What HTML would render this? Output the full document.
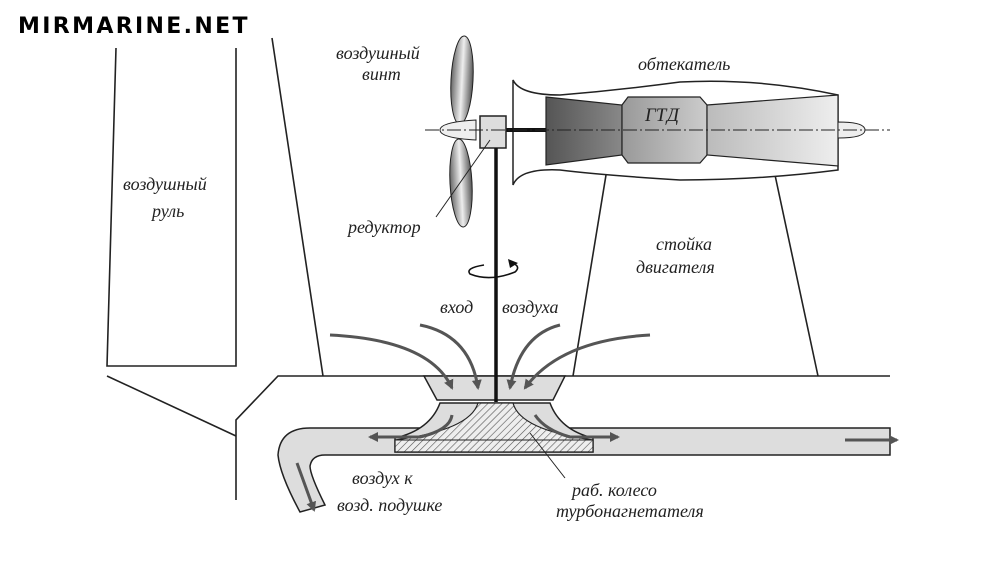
<!DOCTYPE html>
<html><head><meta charset="utf-8"><style>
body{margin:0;background:#fff;width:1000px;height:580px;overflow:hidden}
text{font-family:"Liberation Serif",serif;font-style:italic;font-size:18px;fill:#222}
</style></head><body>
<svg width="1000" height="580" viewBox="0 0 1000 580" xmlns="http://www.w3.org/2000/svg">
<defs>
<pattern id="h" width="5" height="5" patternUnits="userSpaceOnUse" patternTransform="rotate(45)"><rect width="5" height="5" fill="#eee"/><line x1="0" y1="0" x2="0" y2="5" stroke="#555" stroke-width="1.2"/></pattern>
<linearGradient id="g1" x1="0" x2="1"><stop offset="0" stop-color="#555"/><stop offset="1" stop-color="#888"/></linearGradient>
<linearGradient id="g2" x1="0" x2="1"><stop offset="0" stop-color="#999"/><stop offset="1" stop-color="#ccc"/></linearGradient>
<linearGradient id="g3" x1="0" x2="1"><stop offset="0" stop-color="#bbb"/><stop offset="1" stop-color="#eee"/></linearGradient>
<linearGradient id="bl" x1="0" x2="1"><stop offset="0" stop-color="#666"/><stop offset=".5" stop-color="#eee"/><stop offset="1" stop-color="#555"/></linearGradient>
<marker id="a" markerWidth="11" markerHeight="11" refX="8" refY="5" orient="auto" markerUnits="userSpaceOnUse"><path d="M0,0 L10,5 L0,10 Z" fill="#555"/></marker>
</defs>
<text x="18" y="33" style="font-family:'DejaVu Sans',sans-serif;font-style:normal;font-weight:bold;font-size:22px;fill:#000;letter-spacing:0.5px" textLength="230">MIRMARINE.NET</text>
<g fill="none" stroke="#222" stroke-width="1.6">
<polyline points="116,48 107,366 236,366 236,48"/>
<polyline points="107,376 236,436"/>
<line x1="272" y1="38" x2="323" y2="376"/>
<polyline points="890,376 278,376 236,420 236,500"/>
<line x1="606" y1="175" x2="573" y2="376"/>
<line x1="775" y1="175" x2="818" y2="376"/>
</g>
<path d="M890,428 L310,428 Q280,428 278,455 Q280,475 300,512 L325,505 Q310,475 310,466 Q312,455 325,455 L890,455 Z" fill="#ddd" stroke="#222" stroke-width="1.5"/>
<path d="M424,376 L565,376 L553,400 L437,400 Z" fill="#ddd" stroke="#222" stroke-width="1.5"/>
<path d="M440,403 Q430,430 395,438 L395,452 L593,452 L593,438 Q560,430 550,403 Z" fill="#ddd" stroke="#222" stroke-width="1.5"/>
<path d="M478,403 L513,403 Q520,430 593,440 L593,452 L395,452 L395,440 Q470,430 478,403 Z" fill="url(#h)" stroke="#222" stroke-width="1.2"/>
<path d="M395,440 L593,440" stroke="#222" stroke-width="1"/>
<g fill="none" stroke="#555" stroke-width="3" marker-end="url(#a)">
<path d="M330,335 Q430,340 452,388"/>
<path d="M420,325 Q470,335 478,388"/>
<path d="M560,325 Q520,335 510,388"/>
<path d="M650,335 Q560,340 525,388"/>
<path d="M452,415 Q450,430 420,437 L370,437"/>
<path d="M535,415 Q545,430 570,437 L618,437"/>
<path d="M845,440 L897,440"/>
<path d="M297,463 L314,510"/>
</g>
<path d="M513,80 Q520,95 560,95 Q620,90 680,82 Q760,78 838,95 L838,170 Q760,180 680,180 Q600,175 560,170 Q520,168 513,185 Z" fill="#fff" stroke="#222" stroke-width="1.5"/>
<path d="M546,97 L622,105 L622,155 L546,165 Z" fill="url(#g1)" stroke="#222" stroke-width="1.2"/>
<path d="M628,97 L700,97 L707,105 L707,155 L700,163 L628,163 L622,155 L622,105 Z" fill="url(#g2)" stroke="#222" stroke-width="1.2"/>
<path d="M707,105 L838,95 L838,166 L707,155 Z" fill="url(#g3)" stroke="#222" stroke-width="1.2"/>
<text x="645" y="121" style="font-size:19px">ГТД</text>
<path d="M838,122 Q865,122 865,130 Q865,138 838,138 Z" fill="#eee" stroke="#222"/>
<ellipse cx="462" cy="80" rx="11" ry="44" fill="url(#bl)" stroke="#222" transform="rotate(3 462 80)"/>
<ellipse cx="461" cy="183" rx="11" ry="44" fill="url(#bl)" stroke="#222" transform="rotate(-3 461 183)"/>
<path d="M476,120 Q440,122 440,130 Q440,138 476,140 Z" fill="#eee" stroke="#222"/>
<line x1="504" y1="130" x2="546" y2="130" stroke="#111" stroke-width="4"/>
<rect x="480" y="116" width="26" height="32" fill="#ddd" stroke="#222" stroke-width="1.5"/>
<line x1="496" y1="148" x2="496" y2="402" stroke="#111" stroke-width="3.5"/>
<line x1="425" y1="130" x2="890" y2="130" stroke="#222" stroke-width="1" stroke-dasharray="14,3,2,3"/>
<line x1="436" y1="217" x2="490" y2="140" stroke="#222" stroke-width="1"/>
<line x1="530" y1="433" x2="565" y2="478" stroke="#222" stroke-width="1"/>
<path d="M484,265 Q465,268 470,274 Q490,282 515,272 Q522,266 510,262" fill="none" stroke="#111" stroke-width="1.6"/>
<path d="M508,259 L518,263 L510,268 Z" fill="#111"/>
<text x="336" y="59">воздушный</text>
<text x="362" y="80">винт</text>
<text x="638" y="70">обтекатель</text>
<text x="123" y="190">воздушный</text>
<text x="152" y="217">руль</text>
<text x="348" y="233">редуктор</text>
<text x="656" y="250">стойка</text>
<text x="636" y="273">двигателя</text>
<text x="440" y="313">вход</text>
<text x="502" y="313">воздуха</text>
<text x="352" y="484">воздух к</text>
<text x="337" y="511">возд. подушке</text>
<text x="572" y="496">раб. колесо</text>
<text x="556" y="517">турбонагнетателя</text>
</svg>
</body></html>
